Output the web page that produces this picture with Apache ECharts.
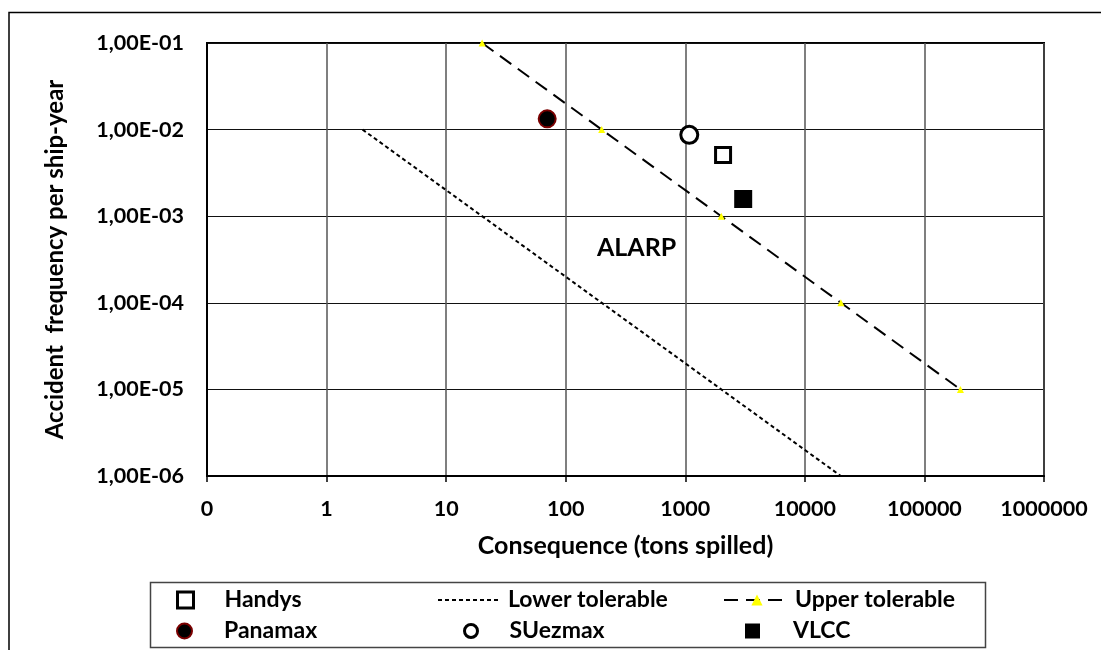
<!DOCTYPE html>
<html>
<head>
<meta charset="utf-8">
<script src="https://cdn.jsdelivr.net/npm/echarts@6/dist/echarts.min.js"></script>
<style>
  html, body { margin: 0; padding: 0; background: #fff; }
  #main { width: 1101px; height: 650px; }
</style>
</head>
<body>
<div id="main"></div>
<script>
// ship classes: [tons spilled, accidents per ship-year]
var handys = [[2070, 0.0051]];
var panamax = [[70, 0.0133]];
var suezmax = [[1080, 0.0087]];
var vlcc = [[3050, 0.00158]];

// tolerability lines
var lowerX = [2, 20000];
var lowerY = [0.01, 0.000001];
var upperX = [20, 200, 2000, 20000, 200000];
var upperY = [0.1, 0.01, 0.001, 0.0001, 0.00001];

var xTickLabels = ['0', '1', '10', '100', '1000', '10000', '100000', '1000000'];
var yTickLabels = ['1,00E-06', '1,00E-05', '1,00E-04', '1,00E-03', '1,00E-02', '1,00E-01'];

function zip(xs, ys) {
    return xs.map(function (x, i) { return [x, ys[i]]; });
}

var FONT = 'Lato';

var myChart = echarts.init(document.getElementById('main'));

function oneLegend(name, left, top, w, h, pad, itemStyle) {
    return {
        data: [name],
        left: left,
        top: top,
        itemWidth: w,
        itemHeight: h,
        selectedMode: false,
        padding: 0,
        itemStyle: itemStyle,
        textStyle: {
            fontFamily: FONT, fontWeight: 'bold', fontSize: 23, color: '#000',
            lineHeight: 24, padding: [0, 0, 0, pad]
        }
    };
}

var option = {
    animation: false,
    backgroundColor: '#fff',
    textStyle: { fontFamily: FONT },
    grid: {
        left: 207,
        right: 57,
        top: 43,
        bottom: 174,
        show: true,
        borderColor: '#000',
        borderWidth: 2
    },
    legend: [
        oneLegend('Handys', 176, 588, 16, 16, 26, { color: '#fff', borderColor: '#000', borderWidth: 3, opacity: 1 }),
        oneLegend('Panamax', 176, 619, 15, 15, 27, { color: '#000', borderColor: '#7a0000', borderWidth: 2, opacity: 1 }),
        oneLegend('Lower tolerable', 437, 588, 63, 14, 2, { opacity: 0 }),
        oneLegend('SUezmax', 463, 619, 13, 13, 27, { color: '#fff', borderColor: '#000', borderWidth: 3, opacity: 1 }),
        oneLegend('Upper tolerable', 723, 588, 66, 14, 0, { opacity: 1 }),
        oneLegend('VLCC', 745, 619, 15, 15, 28, { color: '#000', opacity: 1 })
    ],
    xAxis: {
        type: 'log',
        logBase: 10,
        min: 0.1,
        max: 1000000,
        name: 'Consequence (tons spilled)',
        nameLocation: 'middle',
        nameGap: 57,
        nameTextStyle: { fontFamily: FONT, fontWeight: 'bold', fontSize: 25, color: '#000' },
        axisLine: { lineStyle: { color: '#000', width: 2 } },
        axisTick: { show: true, length: 6, lineStyle: { color: '#000', width: 1.5 } },
        minorTick: { show: false },
        axisLabel: {
            margin: 22,
            fontFamily: FONT, fontWeight: 'bold', fontSize: 21.5, color: '#000',
            formatter: function (v, i) { return xTickLabels[i]; }
        },
        splitLine: { show: true, lineStyle: { color: '#555', width: 1.5 } }
    },
    yAxis: {
        type: 'log',
        logBase: 10,
        min: 0.000001,
        max: 0.1,
        name: 'Accident  frequency per ship-year',
        nameLocation: 'middle',
        nameGap: 140,
        nameTextStyle: { fontFamily: FONT, fontWeight: 'bold', fontSize: 24, color: '#000' },
        axisLine: { lineStyle: { color: '#000', width: 2 } },
        axisTick: { show: false },
        axisLabel: {
            margin: 23,
            fontFamily: FONT, fontWeight: 'bold', fontSize: 21.5, color: '#000',
            formatter: function (v, i) { return yTickLabels[i]; }
        },
        splitLine: { show: true, lineStyle: { color: '#111', width: 1.2 } }
    },
    series: [
        {
            name: 'Lower tolerable',
            type: 'line',
            data: zip(lowerX, lowerY),
            symbol: 'none',
            itemStyle: { color: '#000' },
            lineStyle: { color: '#000', width: 2, type: [4, 3] }
        },
        {
            name: 'Upper tolerable',
            type: 'line',
            data: zip(upperX, upperY),
            symbol: 'triangle',
            symbolSize: 7,
            itemStyle: { color: '#ffff00' },
            lineStyle: { color: '#000', width: 2, type: [14, 8] }
        },
        {
            name: 'Handys',
            type: 'scatter',
            data: handys,
            symbol: 'rect',
            symbolSize: 15,
            itemStyle: { color: '#fff', borderColor: '#000', borderWidth: 3, opacity: 1 }
        },
        {
            name: 'Panamax',
            type: 'scatter',
            data: panamax,
            symbol: 'circle',
            symbolSize: 17,
            itemStyle: { color: '#000', borderColor: '#7a0000', borderWidth: 2, opacity: 1 }
        },
        {
            name: 'SUezmax',
            type: 'scatter',
            data: suezmax,
            symbol: 'circle',
            symbolSize: 17,
            itemStyle: { color: '#fff', borderColor: '#000', borderWidth: 3, opacity: 1 }
        },
        {
            name: 'VLCC',
            type: 'scatter',
            data: vlcc,
            symbol: 'rect',
            symbolSize: 18,
            itemStyle: { color: '#000', opacity: 1 }
        }
    ],
    graphic: [
        {
            type: 'polyline',
            shape: { points: [[9, 650], [9, 12.5], [1101, 12.5]] },
            style: { stroke: '#000', lineWidth: 1.5, fill: null },
            silent: true
        },
        {
            type: 'rect',
            shape: { x: 150.5, y: 582.5, width: 835, height: 65 },
            style: { stroke: '#444', lineWidth: 1.5, fill: null },
            silent: true
        },
        {
            type: 'text',
            left: 597,
            top: 235,
            style: { text: 'ALARP', fontFamily: FONT, fontWeight: 'bold', fontSize: 25, fill: '#000' },
            silent: true
        }
    ]
};

myChart.setOption(option);
</script>
</body>
</html>
